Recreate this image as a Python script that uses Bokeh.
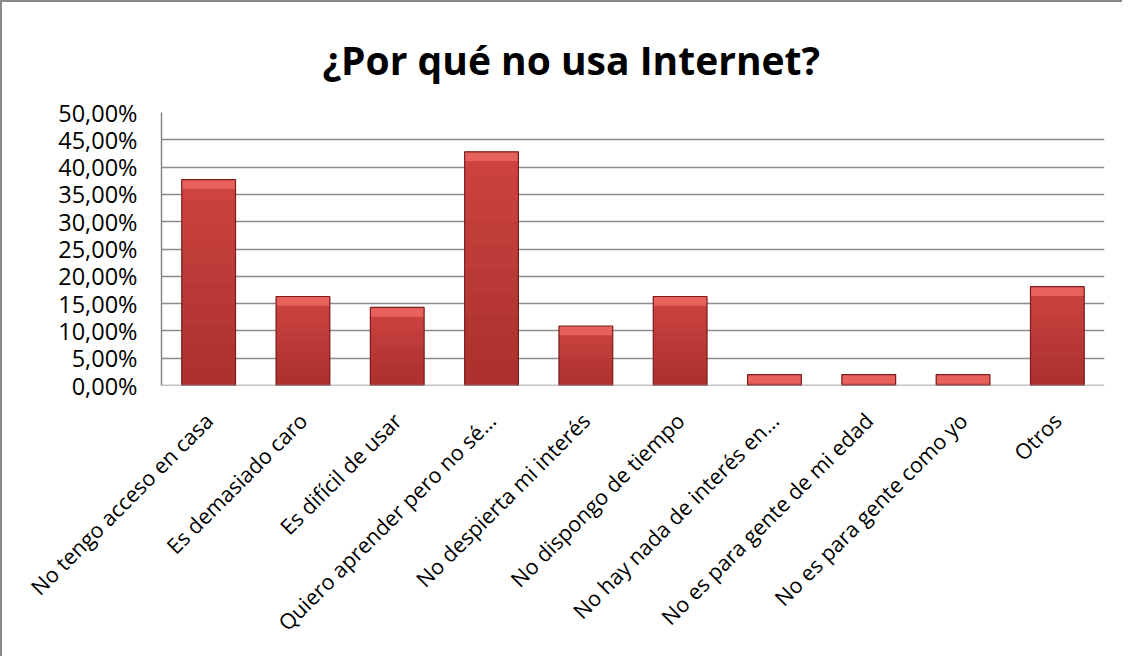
from bokeh.plotting import figure
from bokeh.models import (Range1d, SingleIntervalTicker, CustomJSTickFormatter,
                          ColumnDataSource, Span, LinearAxis, FixedTicker)
from bokeh.embed import file_html
from bokeh.resources import INLINE
import math

categories = [
    "No tengo acceso en casa",
    "Es demasiado caro",
    "Es difícil de usar",
    "Quiero aprender pero no sé…",
    "No despierta mi interés",
    "No dispongo de tiempo",
    "No hay nada de interés en…",
    "No es para gente de mi edad",
    "No es para gente como yo",
    "Otros",
]
values = [37.7, 16.3, 14.3, 42.8, 10.9, 16.3, 2.0, 2.0, 2.0, 18.1]
title_text = "¿Por qué no usa Internet?"

FONT = "Open Sans"
BAR_W = 0.57
LABEL_SHIFT = 0.0  # category-label anchor shift (in category widths)

n = len(categories)
idx = list(range(n))
src = ColumnDataSource(dict(
    i=idx,
    cat=categories,
    val=values,
    bev=[max(v - 1.7, 0) for v in values],
))

p = figure(
    x_range=Range1d(-0.5, n - 0.5),
    y_range=Range1d(0, 50),
    width=1122, height=656,
    output_backend="svg", toolbar_location=None,
    min_border_left=159, min_border_right=20, min_border_top=110, min_border_bottom=273,
)
p.styles = {"border-top": "2px solid #8a8a8a", "border-left": "2px solid #8a8a8a"}
p.outline_line_color = None
p.background_fill_color = "white"
p.border_fill_color = "white"

# title
p.title.text = title_text
p.title.text_font = FONT
p.title.text_font_style = "bold"
p.title.text_font_size = "39px"
p.title.text_color = "black"
p.title.align = "left"
p.title.offset = 161
p.title.standoff = 54

# grid
p.xgrid.grid_line_color = None
p.ygrid.grid_line_color = "#8c8c8c"
p.ygrid.grid_line_width = 1.5
p.yaxis.ticker = SingleIntervalTicker(interval=5)
p.ygrid.ticker = SingleIntervalTicker(interval=5)

# bars: base face
p.vbar(x="i", top="val", bottom=0, width=BAR_W, source=src,
       fill_color="#D24542", line_color=None)
# smooth darkening toward the base
steps = 10
for k in range(1, steps + 1):
    frac = k / steps
    p.vbar(x=idx, top=[v * frac for v in values], bottom=0, width=BAR_W,
           fill_color="#7A1A1A", fill_alpha=0.045, line_color=None)
# top bevel
p.vbar(x="i", top="val", bottom="bev", width=BAR_W, source=src,
       fill_color="#E8625D", line_color=None)
# outline
p.vbar(x="i", top="val", bottom=0, width=BAR_W, source=src,
       fill_color=None, line_color="#7A1C1C", line_width=1.2)

# category axis (labels only)
p.xaxis.visible = False
p.extra_x_ranges = {"lab": Range1d(-0.5 + LABEL_SHIFT, n - 0.5 + LABEL_SHIFT)}
cat_axis = LinearAxis(x_range_name="lab", ticker=FixedTicker(ticks=idx),
                      major_label_overrides={i: c for i, c in zip(idx, categories)})
cat_axis.axis_line_color = None
cat_axis.major_tick_line_color = None
cat_axis.minor_tick_line_color = None
cat_axis.major_label_orientation = math.pi / 4
cat_axis.major_label_standoff = 25
cat_axis.major_label_text_font = FONT
cat_axis.major_label_text_font_size = "21.5px"
cat_axis.major_label_text_color = "black"
p.add_layout(cat_axis, "below")
p.add_layout(Span(location=0, dimension="width", line_color="#868686", line_width=1.5))

p.yaxis.formatter = CustomJSTickFormatter(code="return tick.toFixed(2).replace('.', ',') + '%';")
p.yaxis.axis_line_color = "#868686"
p.yaxis.axis_line_width = 1.5
p.yaxis.major_tick_line_color = None
p.yaxis.minor_tick_line_color = None
p.yaxis.major_label_text_font = FONT
p.yaxis.major_label_text_font_size = "23.5px"
p.yaxis.major_label_text_color = "black"
p.yaxis.major_label_standoff = 18

open("out.html", "w").write(file_html(p, INLINE))
